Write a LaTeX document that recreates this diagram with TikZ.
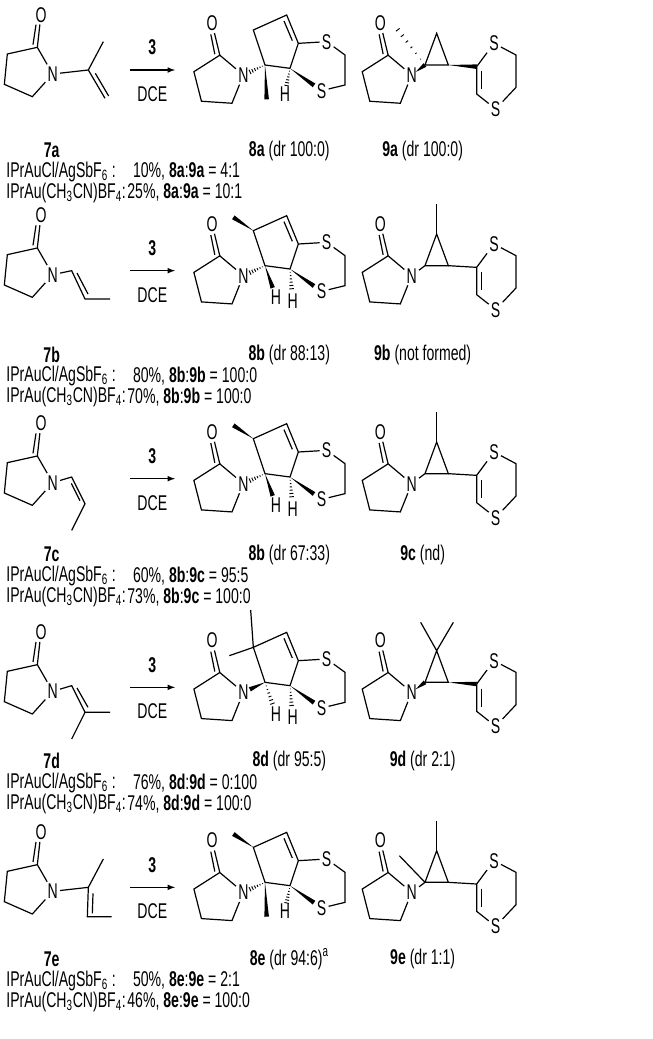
\documentclass[tikz,border=0pt]{standalone}
\usepackage{fontspec}
\setmainfont[FakeStretch=0.66]{Liberation Sans}
\usetikzlibrary{calc}

\tikzset{
  bond/.style = {line width=0.9pt},
  atom/.style = {inner sep=1.5pt},
  lab/.style  = {anchor=west},
  % pyrrolidinone, origin at N
  lactam/.pic = {
    \node[atom] (-N) at (0,0) {N};
    \coordinate (-c2) at (-46,-80);
    \coordinate (-c3) at (-136,-60);
    \coordinate (-c4) at (-145,31);
    \coordinate (-c5) at (-61,68);
    \coordinate (-o) at (-35,-178);
    \node[atom] (-O) at (-o) {O};
    \draw[bond] (-N) -- (-c2) -- (-c3) -- (-c4) -- (-c5) -- (-N);
    \draw[bond] (-c2) -- (-O);
    \draw[bond] (-59,-88) -- (-50,-148);
  },
  % bicyclic product skeleton
  eight/.pic = {
    \coordinate (-c1) at (795,-15);
    \coordinate (-c5) at (760,-120);
    \coordinate (-c4) at (860,-165);
    \coordinate (-c3a) at (895,-80);
    \coordinate (-c7a) at (870,-5);
    \node[atom] (-s1) at (980,-85) {S};
    \coordinate (-d1) at (1035,-45);
    \coordinate (-d2) at (1035,45);
    \node[atom] (-s2) at (965,62) {S};
    \coordinate (-w) at (942,46);
    \draw[bond] (-c7a) -- (-c1) -- (-c5) -- (-c4) -- (-c3a) -- (-c7a);
    \draw[bond] (852,-147) -- (877,-88);
    \draw[bond] (-c3a) -- (-s1) -- (-d1) -- (-d2) -- (-s2);
  },
  % cyclopropane + dithiin skeleton
  nine/.pic = {
    \coordinate (-c1) at (1275,-15);
    \coordinate (-c2) at (1345,-15);
    \coordinate (-c3) at (1310,-110);
    \coordinate (-cv) at (1430,-10);
    \coordinate (-ch) at (1430,72);
    \node[atom] (-s1) at (1482,-80) {S};
    \coordinate (-d1) at (1548,-45);
    \coordinate (-d2) at (1548,52);
    \node[atom] (-s2) at (1487,117) {S};
    \draw[bond] (-c1) -- (-c2) -- (-c3) -- (-c1);
    \draw[bond] (-cv) -- (-s1) -- (-d1) -- (-d2) -- (-s2) -- (-ch) -- (-cv);
    \draw[bond] (1444,4) -- (1444,58);
  },
}

% wedge: narrow at #1, wide at #2
\newcommand\wdg[2]{\fill ($(#1)$) -- ($(#2)!1.7pt!90:(#1)$) -- ($(#2)!1.7pt!-90:(#1)$) -- cycle;}
% hashed wedge: narrow at #1, wide at #2
\newcommand\hsh[2]{\foreach \t in {0.16,0.32,0.48,0.64,0.8,0.96}
  \draw[line width=0.7pt] ($(#1)!\t!($(#2)!1.8pt!90:(#1)$)$) -- ($(#1)!\t!($(#2)!1.8pt!-90:(#1)$)$);}
% arrow with reagent
\newcommand\rxn{%
  \coordinate (a0) at (390,0); \coordinate (a1) at (525,0);
  \draw[bond, -latex] (a0) -- (a1);
  \node (r3) at (457,-68) {\textbf{3}};
  \node (dce) at (457,72) {DCE};}

\begin{document}
\begin{tikzpicture}[x=0.25pt, y=-0.25pt, font=\fontsize{16}{18}\selectfont]
  \useasboundingbox (0,0) rectangle (1959,3117);

  % ------------------------------------------------------------------------
  % 7a
  \begin{scope}[shift={(0,210)}]
    \pic (l7) at (158,12) {lactam};
    \coordinate (e1) at (265,0); \coordinate (e2) at (310,-85); \coordinate (e3) at (315,85);
    \draw[bond] (l7-N) -- (e1) -- (e2);
    \draw[bond] (e1) -- (e3);
    \draw[bond] (286,10) -- (326,78);
    \rxn
    \pic[rotate=20] (l8) at (730,15) {lactam};
    \pic (b) at (0,0) {eight};
    \coordinate (bn) at ($(b-c1)!0.72!(l8-N)$);
    \hsh{b-c1}{bn}
    \coordinate (bm) at (800,88);
    \wdg{b-c1}{bm}
    \node[atom] (h2) at (855,72) {H};
    \coordinate (bh) at ($(b-c7a)!0.7!(h2)$);
    \hsh{b-c7a}{bh}
    \wdg{b-c7a}{b-w}
    \pic[rotate=20] (l9) at (1235,15) {lactam};
    \pic (t) at (0,0) {nine};
    \coordinate (tn) at ($(l9-N)!0.3!(t-c1)$);
    \wdg{tn}{t-c1}
    \coordinate (tm) at (1190,-125);
    \hsh{t-c1}{tm}
    \wdg{t-c2}{t-cv}
    \node (n7) at (155,242) {\textbf{7a}};
    \node (n8) at (868,242) {\textbf{8a} (dr 100:0)};
    \node (n9) at (1268,242) {\textbf{9a} (dr 100:0)};
    \node[lab] (k1) at (5,305) {IPrAuCl/AgSbF\textsubscript{6} :};
    \node[lab] (v1) at (385,305) {10\%, \textbf{8a}:\textbf{9a} = 4:1};
    \node[lab] (k2) at (5,368) {IPrAu(CH\textsubscript{3}CN)BF\textsubscript{4}:};
    \node[lab] (v2) at (368,368) {25\%, \textbf{8a}:\textbf{9a} = 10:1};
  \end{scope}

  % ------------------------------------------------------------------------
  % 7b
  \begin{scope}[shift={(0,812)}]
    \pic (l7) at (158,12) {lactam};
    \coordinate (e1) at (215,0); \coordinate (e2) at (255,85); \coordinate (e3) at (330,85);
    \draw[bond] (l7-N) -- (e1) -- (e2) -- (e3);
    \draw[bond] (231,7) -- (264,70);
    \rxn
    \pic[rotate=20] (l8) at (730,15) {lactam};
    \pic (b) at (0,0) {eight};
    \coordinate (bn) at ($(b-c1)!0.72!(l8-N)$);
    \hsh{b-c1}{bn}
    \node[atom] (h1) at (828,80) {H};
    \coordinate (bh1) at ($(b-c1)!0.7!(h1)$);
    \wdg{b-c1}{bh1}
    \node[atom] (h2) at (878,90) {H};
    \coordinate (bh) at ($(b-c7a)!0.65!(h2)$);
    \hsh{b-c7a}{bh}
    \wdg{b-c7a}{b-w}
    \coordinate (bm) at (700,-160);
    \wdg{b-c5}{bm}
    \pic[rotate=20] (l9) at (1235,15) {lactam};
    \pic (t) at (0,0) {nine};
    \coordinate (tm) at (1310,-200);
    \draw[bond] (l9-N) -- (t-c1);
    \draw[bond] (t-c2) -- (t-cv);
    \draw[bond] (t-c3) -- (tm);
    \node (n7) at (155,252) {\textbf{7b}};
    \node (n8) at (868,252) {\textbf{8b} (dr 88:13)};
    \node (n9) at (1268,252) {\textbf{9b} (not formed)};
    \node[lab] (k1) at (5,316) {IPrAuCl/AgSbF\textsubscript{6} :};
    \node[lab] (v1) at (385,316) {80\%, \textbf{8b}:\textbf{9b} = 100:0};
    \node[lab] (k2) at (5,379) {IPrAu(CH\textsubscript{3}CN)BF\textsubscript{4}:};
    \node[lab] (v2) at (368,379) {70\%, \textbf{8b}:\textbf{9b} = 100:0};
  \end{scope}

  % ------------------------------------------------------------------------
  % 7c
  \begin{scope}[shift={(0,1436)}]
    \pic (l7) at (158,12) {lactam};
    \coordinate (e1) at (215,-5); \coordinate (e2) at (255,75); \coordinate (e3) at (215,155);
    \draw[bond] (l7-N) -- (e1) -- (e2) -- (e3);
    \draw[bond] (214,14) -- (240,66);
    \rxn
    \pic[rotate=20] (l8) at (730,15) {lactam};
    \pic (b) at (0,0) {eight};
    \coordinate (bn) at ($(b-c1)!0.72!(l8-N)$);
    \hsh{b-c1}{bn}
    \node[atom] (h1) at (828,80) {H};
    \coordinate (bh1) at ($(b-c1)!0.7!(h1)$);
    \wdg{b-c1}{bh1}
    \node[atom] (h2) at (878,90) {H};
    \coordinate (bh) at ($(b-c7a)!0.65!(h2)$);
    \hsh{b-c7a}{bh}
    \wdg{b-c7a}{b-w}
    \coordinate (bm) at (700,-160);
    \wdg{b-c5}{bm}
    \pic[rotate=20] (l9) at (1235,15) {lactam};
    \pic (t) at (0,0) {nine};
    \coordinate (tm) at (1310,-200);
    \draw[bond] (l9-N) -- (t-c1);
    \draw[bond] (t-c2) -- (t-cv);
    \draw[bond] (t-c3) -- (tm);
    \node (n7) at (155,228) {\textbf{7c}};
    \node (n8) at (868,228) {\textbf{8b} (dr 67:33)};
    \node (n9) at (1268,228) {\textbf{9c} (nd)};
    \node[lab] (k1) at (5,292) {IPrAuCl/AgSbF\textsubscript{6} :};
    \node[lab] (v1) at (385,292) {60\%, \textbf{8b}:\textbf{9c} = 95:5};
    \node[lab] (k2) at (5,355) {IPrAu(CH\textsubscript{3}CN)BF\textsubscript{4}:};
    \node[lab] (v2) at (368,355) {73\%, \textbf{8b}:\textbf{9c} = 100:0};
  \end{scope}

  % ------------------------------------------------------------------------
  % 7d
  \begin{scope}[shift={(0,2062)}]
    \pic (l7) at (158,12) {lactam};
    \coordinate (e1) at (215,-5); \coordinate (e2) at (255,75);
    \coordinate (e3) at (330,75); \coordinate (e4) at (215,155);
    \draw[bond] (l7-N) -- (e1) -- (e2) -- (e3);
    \draw[bond] (e2) -- (e4);
    \draw[bond] (231,2) -- (264,60);
    \rxn
    \pic[rotate=20] (l8) at (730,15) {lactam};
    \pic (b) at (0,0) {eight};
    \coordinate (bn) at ($(b-c1)!0.7!(l8-N)$);
    \wdg{b-c1}{bn}
    \node[atom] (h1) at (828,80) {H};
    \coordinate (bh1) at ($(b-c1)!0.7!(h1)$);
    \hsh{b-c1}{bh1}
    \node[atom] (h2) at (878,90) {H};
    \coordinate (bh) at ($(b-c7a)!0.65!(h2)$);
    \hsh{b-c7a}{bh}
    \wdg{b-c7a}{b-w}
    \coordinate (bm1) at (688,-95); \coordinate (bm2) at (752,-232);
    \draw[bond] (bm1) -- (b-c5) -- (bm2);
    \pic[rotate=20] (l9) at (1235,15) {lactam};
    \pic (t) at (0,0) {nine};
    \coordinate (tn) at ($(l9-N)!0.3!(t-c1)$);
    \wdg{tn}{t-c1}
    \wdg{t-c2}{t-cv}
    \coordinate (tm1) at (1262,-195); \coordinate (tm2) at (1360,-195);
    \draw[bond] (tm1) -- (t-c3) -- (tm2);
    \node (n7) at (155,222) {\textbf{7d}};
    \node (n8) at (868,222) {\textbf{8d} (dr 95:5)};
    \node (n9) at (1268,222) {\textbf{9d} (dr 2:1)};
    \node[lab] (k1) at (5,286) {IPrAuCl/AgSbF\textsubscript{6} :};
    \node[lab] (v1) at (385,286) {76\%, \textbf{8d}:\textbf{9d} = 0:100};
    \node[lab] (k2) at (5,349) {IPrAu(CH\textsubscript{3}CN)BF\textsubscript{4}:};
    \node[lab] (v2) at (368,349) {74\%, \textbf{8d}:\textbf{9d} = 100:0};
  \end{scope}

  % ------------------------------------------------------------------------
  % 7e
  \begin{scope}[shift={(0,2662)}]
    \pic (l7) at (158,12) {lactam};
    \coordinate (e1) at (265,0); \coordinate (e2) at (310,-85);
    \coordinate (e3) at (262,88); \coordinate (e4) at (335,88);
    \draw[bond] (l7-N) -- (e1) -- (e2);
    \draw[bond] (e1) -- (e3) -- (e4);
    \draw[bond] (279,18) -- (277,78);
    \rxn
    \pic[rotate=20] (l8) at (730,15) {lactam};
    \pic (b) at (0,0) {eight};
    \coordinate (bn) at ($(b-c1)!0.72!(l8-N)$);
    \hsh{b-c1}{bn}
    \coordinate (bm) at (800,88);
    \wdg{b-c1}{bm}
    \node[atom] (h2) at (855,72) {H};
    \coordinate (bh) at ($(b-c7a)!0.7!(h2)$);
    \hsh{b-c7a}{bh}
    \wdg{b-c7a}{b-w}
    \coordinate (bm2) at (700,-160);
    \wdg{b-c5}{bm2}
    \pic[rotate=20] (l9) at (1235,15) {lactam};
    \pic (t) at (0,0) {nine};
    \coordinate (tm) at (1310,-200); \coordinate (tm2) at (1198,-95);
    \draw[bond] (l9-N) -- (t-c1) -- (tm2);
    \draw[bond] (t-c2) -- (t-cv);
    \draw[bond] (t-c3) -- (tm);
    \node (n7) at (155,215) {\textbf{7e}};
    \node (n8) at (868,215) {\textbf{8e} (dr 94:6)\textsuperscript{a}};
    \node (n9) at (1268,215) {\textbf{9e} (dr 1:1)};
    \node[lab] (k1) at (5,280) {IPrAuCl/AgSbF\textsubscript{6} :};
    \node[lab] (v1) at (385,280) {50\%, \textbf{8e}:\textbf{9e} = 2:1};
    \node[lab] (k2) at (5,343) {IPrAu(CH\textsubscript{3}CN)BF\textsubscript{4}:};
    \node[lab] (v2) at (368,343) {46\%, \textbf{8e}:\textbf{9e} = 100:0};
  \end{scope}
\end{tikzpicture}
\end{document}
